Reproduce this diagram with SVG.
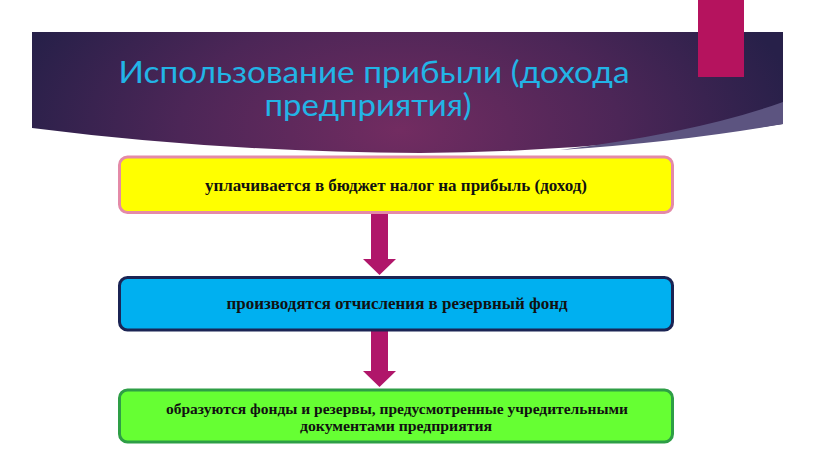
<svg xmlns="http://www.w3.org/2000/svg" width="816" height="459" viewBox="0 0 816 459">
<defs>
<radialGradient id="bg" cx="400" cy="130" r="400" gradientUnits="userSpaceOnUse" gradientTransform="translate(400 130) scale(1 0.55) translate(-400 -130)">
<stop offset="0" stop-color="#722c61"/>
<stop offset="0.55" stop-color="#4c2657"/>
<stop offset="1" stop-color="#272049"/>
</radialGradient>
</defs>
<style>
.box{stroke-width:3}
.lbl{font-family:"Liberation Serif","Times New Roman",serif;font-weight:bold;font-size:17px;fill:#111;text-anchor:middle}
.sm{font-size:14px}
.title{font-family:"Lato","Open Sans",sans-serif;font-weight:400;font-size:30px;fill:#22b4e6;text-anchor:middle}
.arr{fill:#b0166a}
</style>
<rect width="816" height="459" fill="#ffffff"/>
<g id="banner">
<path d="M32 32 H783 V124 Q600 152 420 153 Q220 152 32 128 Z" fill="url(#bg)"/>
<path d="M783 102 Q700 132 560 150 Q680 142 783 124 Z" fill="#5c5480"/>
<rect x="698" y="0" width="46" height="77" fill="#b5135e"/>
<text class="title" x="374" y="83" textLength="511" lengthAdjust="spacingAndGlyphs">Использование прибыли (дохода</text>
<text class="title" x="368" y="116" textLength="207" lengthAdjust="spacingAndGlyphs">предприятия)</text>
</g>
<g id="connectors">
<path class="arr" d="M371 213 H388 V259 H396 L379.5 275 L363 259 H371 Z"/>
<path class="arr" d="M371 331 H388 V371 H396 L379.5 387 L363 371 H371 Z"/>
</g>
<g id="node1">
<rect class="box" x="119.5" y="157" width="553" height="55.5" rx="8" fill="#ffff00" stroke="#e48aa8"/>
<text class="lbl" x="396" y="191" textLength="382" lengthAdjust="spacingAndGlyphs">уплачивается в бюджет налог на прибыль (доход)</text>
</g>
<g id="node2">
<rect class="box" x="119.5" y="277.5" width="553" height="52.5" rx="8" fill="#00b0f0" stroke="#1b2454"/>
<text class="lbl" x="397" y="309" textLength="341" lengthAdjust="spacingAndGlyphs">производятся отчисления в резервный фонд</text>
</g>
<g id="node3">
<rect class="box" x="119.5" y="390" width="553" height="52" rx="8" fill="#66ff33" stroke="#2e9e46"/>
<text class="lbl sm" x="397" y="414" textLength="462" lengthAdjust="spacingAndGlyphs">образуются фонды и резервы, предусмотренные учредительными</text>
<text class="lbl sm" x="396" y="431" textLength="192" lengthAdjust="spacingAndGlyphs">документами предприятия</text>
</g>
</svg>
